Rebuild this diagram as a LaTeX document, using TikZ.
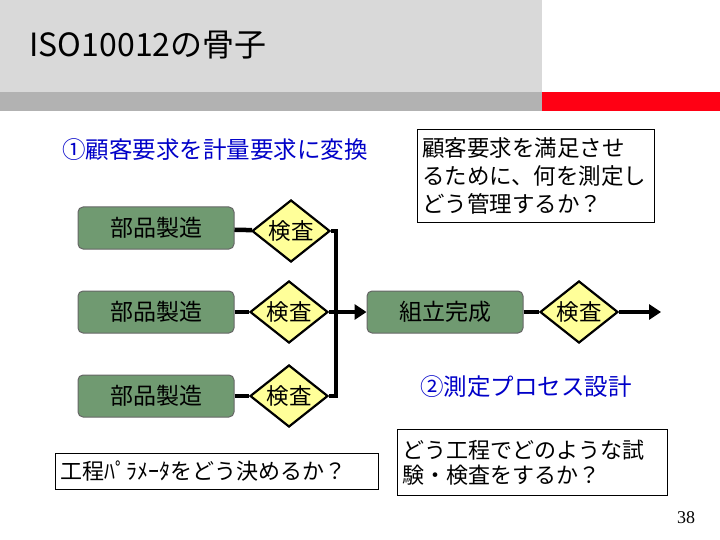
\documentclass[tikz,border=0pt]{standalone}
\usepackage{fontspec}
\setmainfont{Noto Sans CJK JP}
\newfontfamily\pagefont{Liberation Serif}
\usepackage{tikz}
\usetikzlibrary{arrows.meta,positioning,shapes.geometric,calc}
\definecolor{TitleGray}{RGB}{217,217,217}
\definecolor{StripGray}{RGB}{178,178,178}
\definecolor{StripRed}{RGB}{255,0,20}
\definecolor{SageGreen}{RGB}{112,154,113}
\definecolor{PaleYellow}{RGB}{255,255,153}
\definecolor{CaptionBlue}{RGB}{0,0,200}
\tikzset{
  procbox/.style={draw=black!60,rounded corners=5pt,fill=SageGreen,
    line width=1pt,minimum width=156pt,minimum height=42pt,align=center,
    font=\fontsize{23}{27}\selectfont},
  checkdia/.style={diamond,draw=black,fill=PaleYellow,line width=2.2pt,
    aspect=1.26,minimum width=78pt,minimum height=62pt,inner sep=0pt,
    font=\fontsize{22.5}{26}\selectfont},
  notebox/.style={draw=black,line width=1pt,inner sep=4pt,anchor=north west,
    align=left},
  caption/.style={text=CaptionBlue,font=\fontsize{23.5}{27}\selectfont},
  flow/.style={line width=4.5pt,line join=miter,black},
  flowarrow/.style={flow,-{Triangle[length=12pt,width=15pt]}}
}
\begin{document}
\begin{tikzpicture}[x=1pt,y=-1pt]
\useasboundingbox (0,0) rectangle (720,540);
% title band
\fill[TitleGray] (0,0) rectangle (542,92);
\fill[StripGray] (0,92) rectangle (542,111);
\fill[StripRed] (542,92) rectangle (720,111);
\node[anchor=west,font=\fontsize{32}{36}\selectfont] (title) at (26,45) {ISO10012の骨子};

% captions and notes
\node[caption] (capA) at (215,150) {①顧客要求を計量要求に変換};
\node[caption] (capB) at (526,387) {②測定プロセス設計};
\node[notebox,minimum width=237pt,minimum height=93pt,text width=228pt,
  font=\fontsize{22.5}{28}\selectfont] (noteA) at (417,129)
  {顧客要求を満足させ\\るために、何を測定し\\どう管理するか？};
\node[notebox,minimum width=270pt,minimum height=66pt,text width=261pt,
  font=\fontsize{22}{25}\selectfont] (noteB) at (397,429)
  {どう工程でどのような試\\験・検査をするか？};
\node[notebox,minimum width=323pt,minimum height=36pt,text width=314pt,
  font=\fontsize{22}{26}\selectfont] (noteC) at (55,453)
  {工程ﾊﾟﾗﾒｰﾀをどう決めるか？};

% flow
\node[procbox] (partA) at (156,228) {部品製造};
\node[procbox] (partB) at (156,312) {部品製造};
\node[procbox] (partC) at (156,396) {部品製造};
\node[checkdia] (chkA) at (291,231) {\raisebox{-4pt}{検査}};
\node[checkdia] (chkB) at (289,312) {検査};
\node[checkdia] (chkC) at (289,396) {\raisebox{-4pt}{検査}};
\node[procbox] (asm) at (445,312) {組立完成};
\node[checkdia] (chkD) at (579,312) {検査};
\coordinate (bus) at (336,312);
\coordinate (out) at (661,312);

\draw[flow] (partA) -- (chkA);
\draw[flow] (partB) -- (chkB);
\draw[flow] (partC) -- (chkC);
\draw[flow] (chkA.east) -| (bus) |- (chkC.east);
\draw[flowarrow] (chkB.east) -- (asm.west);
\draw[flow] (asm) -- (chkD);
\draw[flowarrow] (chkD.east) -- (out);

\node[font=\fontsize{18}{20}\selectfont\pagefont] (page) at (686,518) {38};
\end{tikzpicture}
\end{document}
